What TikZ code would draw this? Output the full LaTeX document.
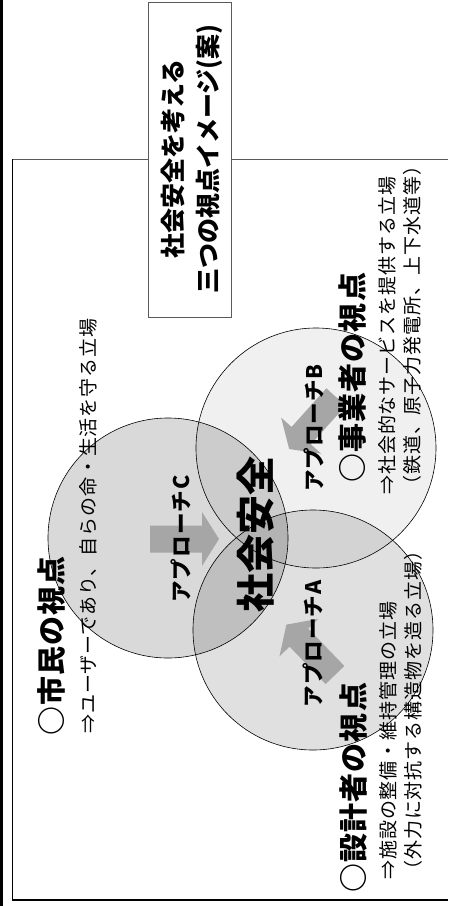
\documentclass[tikz,border=0pt]{standalone}
\usepackage{fontspec}
\setmainfont{Noto Sans CJK JP}
\definecolor{arrowgray}{RGB}{166,166,166}
\definecolor{boxline}{RGB}{90,90,90}
\definecolor{baseline}{RGB}{128,128,128}
\begin{document}
\begin{tikzpicture}[x=1pt,y=-1pt,
  ring/.style={circle, draw=black, line width=0.6pt, fill=black, fill opacity=#1, minimum size=240pt, inner sep=0pt},
  blockarrow/.style={fill=arrowgray, draw=none},
  vtext/.style={rotate=90, inner sep=0pt, text=black},
  headtext/.style={vtext, anchor=west, font=\fontsize{29}{31}\selectfont\bfseries\addfontfeature{LetterSpace=4}},
  subtext/.style={vtext, anchor=west, align=left, font=\fontsize{19}{25.5}\selectfont\addfontfeature{LetterSpace=5}},
  apptext/.style={vtext, font=\fontsize{21.5}{23}\selectfont\bfseries\addfontfeature{LetterSpace=5}},
  titletext/.style={vtext, align=center, font=\fontsize{25}{35}\selectfont\bfseries}
]
\useasboundingbox (0,0) rectangle (448,906);
% frame
\fill[black] (0,0) rectangle (3,906);
\draw[boxline, line width=0.8pt] (12,159) -- (448,159);
\draw[black, line width=1pt] (12,159) -- (12,900);
\draw[baseline, line width=2pt] (12,900) -- (448,900);
% title box
\node[draw=boxline, fill=white, line width=0.8pt, minimum width=83pt, minimum height=315pt, inner sep=0pt] (tbox) at (189.5,159.5) {};
\node[titletext] (title) at (192,159) {社会安全を考える\\三つの視点イメージ(案)};
% circles
\node[ring=0.15] (cC) at (168,538) {};
\node[ring=0.06] (cB) at (316,448) {};
\node[ring=0.12] (cA) at (313,630) {};
% block arrows
\begin{scope}[shift={(150,539)}]
  \fill[blockarrow] (0,-13.5) -- (52,-13.5) -- (52,-27) -- (69,0) -- (52,27) -- (52,13.5) -- (0,13.5) -- cycle;
\end{scope}
\begin{scope}[shift={(336,397)}, rotate=228]
  \fill[blockarrow] (0,-13) -- (52,-13) -- (52,-27) -- (70,0) -- (52,27) -- (52,13) -- (0,13) -- cycle;
\end{scope}
\begin{scope}[shift={(335,675)}, rotate=134]
  \fill[blockarrow] (0,-13) -- (52,-13) -- (52,-27) -- (70,0) -- (52,27) -- (52,13) -- (0,13) -- cycle;
\end{scope}
% texts
\node[vtext, font=\fontsize{39}{41}\selectfont\bfseries] (center) at (256,534) {社会安全};
\node[apptext] (apC) at (181,539) {アプローチC};
\node[apptext] (apB) at (314,428) {アプローチB};
\node[apptext] (apA) at (313,644) {アプローチA};
\node[headtext] (hC) at (51,736) {○市民の視点};
\node[headtext] (hB) at (353,483) {○事業者の視点};
\node[headtext] (hA) at (353,893) {○設計者の視点};
\node[subtext] (sC) at (88,734) {⇒ユーザーであり、自らの命・生活を守る立場};
\node[subtext] (sB) at (400,495) {⇒社会的なサービスを提供する立場\\（鉄道、原子力発電所、上下水道等）};
\node[subtext] (sA) at (401,880) {⇒施設の整備・維持管理の立場\\（外力に対抗する構造物を造る立場）};
\end{tikzpicture}
\end{document}
